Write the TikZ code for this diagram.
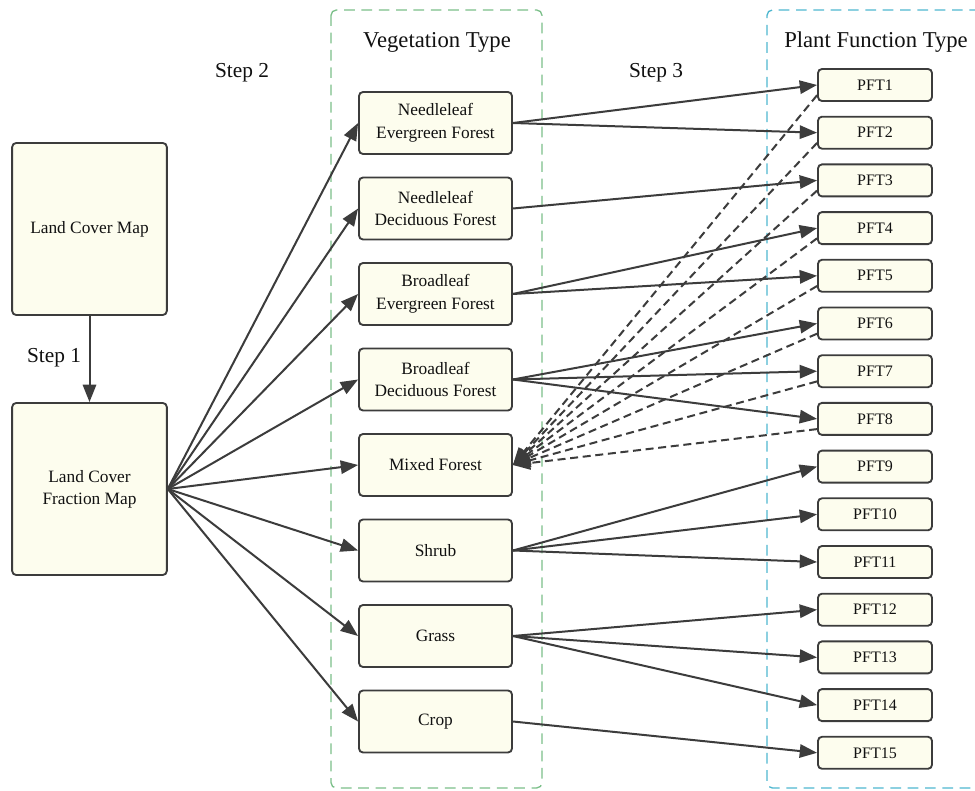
\documentclass[tikz,border=0pt]{standalone}
\usepackage{fontspec}
\setmainfont{Liberation Serif}
\usepackage{xcolor}
\usepackage{tikz}
\usetikzlibrary{calc,arrows.meta}
\definecolor{bg}{HTML}{FFFFFF}
\definecolor{boxbg}{HTML}{FDFDEE}
\definecolor{edge}{HTML}{3C3C3C}
\definecolor{ink}{HTML}{111111}
\definecolor{vegline}{HTML}{7CC08A}
\definecolor{pftline}{HTML}{4FB8D0}
\tikzset{
  mapbox/.style={draw=edge, fill=boxbg, line width=1.4pt, rounded corners=3pt,
    minimum width=116pt, minimum height=129pt, inner sep=0pt, align=center,
    text=ink, font=\rmfamily\fontsize{13pt}{16.5pt}\selectfont},
  vegbox/.style={draw=edge, fill=boxbg, line width=1.4pt, rounded corners=3pt,
    minimum width=114.75pt, minimum height=46.5pt, inner sep=0pt, align=center,
    text=ink, font=\rmfamily\fontsize{13pt}{17pt}\selectfont},
  pftbox/.style={draw=edge, fill=boxbg, line width=1.4pt, rounded corners=3pt,
    minimum width=85.5pt, minimum height=24pt, inner sep=0pt,
    text=ink, font=\rmfamily\fontsize{12pt}{14pt}\selectfont},
  link/.style={draw=edge, line width=1.5pt, -{Triangle[length=13pt,width=10pt]}},
  mixlink/.style={link, dash pattern=on 6pt off 3.5pt},
  group/.style={line width=1pt, dash pattern=on 8pt off 5pt, rounded corners=4pt},
  steplab/.style={text=ink, font=\rmfamily\fontsize{16pt}{18pt}\selectfont},
  title/.style={text=ink, font=\rmfamily\fontsize{17pt}{19pt}\selectfont}
}

\begin{document}
\begin{tikzpicture}[x=0.75pt,y=-0.75pt]
  \useasboundingbox[fill=bg] (0,0) rectangle (975,791);
  % group frames
  \draw[group, draw=vegline] (331,10) rectangle (542,788);
  \draw[group, draw=pftline] (980,10) -- (767,10) -- (767,788) -- (980,788);
  \node[title] (vegtitle) at (437,42) {Vegetation Type};
  \node[title] (pfttitle) at (876,42) {Plant Function Type};
  % land cover maps
  \node[mapbox] (lcm) at (89.5,229) {Land Cover Map};
  \node[mapbox] (lcf) at (89.5,489) {Land Cover\\Fraction Map};
  \draw[link] (lcm) -- (lcf);
  \node[steplab] at (54,358) {Step 1};
  \node[steplab] at (242,73) {Step 2};
  \node[steplab] at (656,73) {Step 3};
  % vegetation types
  \foreach \name/\txt [count=\k from 0] in {nef/Needleleaf\\Evergreen Forest,
      ndf/Needleleaf\\Deciduous Forest, bef/Broadleaf\\Evergreen Forest,
      bdf/Broadleaf\\Deciduous Forest, mix/Mixed Forest, shrub/Shrub,
      grass/Grass, crop/Crop} {
    \node[vegbox] (\name) at (435.5,123+85.5*\k) {\txt};
    \draw[link] (lcf.east) -- (\name.west);
  }
  % plant function types
  \foreach \i in {1,...,15} {
    \node[pftbox] (p\i) at (875,85+47.7*\i-47.7) {PFT\i};
  }
  \foreach \src/\dst in {nef/1, nef/2, ndf/3, bef/4, bef/5, bdf/6, bdf/7, bdf/8,
      shrub/9, shrub/10, shrub/11, grass/12, grass/13, grass/14, crop/15} {
    \draw[link] (\src.east) -- (p\dst.west);
  }
  \foreach \i in {1,...,8} {
    \draw[mixlink] (p\i.190) -- (mix.east);
  }
\end{tikzpicture}
\end{document}
